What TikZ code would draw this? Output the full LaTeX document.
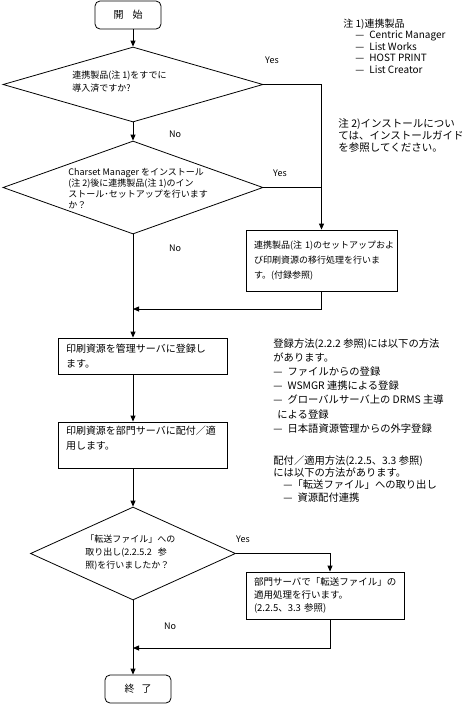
\documentclass[tikz,border=0pt]{standalone}
\usepackage{fontspec}
\setmainfont{Noto Sans CJK JP}
\usetikzlibrary{shapes.geometric, arrows.meta}

\begin{document}
\begin{tikzpicture}[
    x=1pt, y=-1pt,
    line width=0.8pt,
    term/.style={draw, rounded corners=5pt, minimum width=66pt, minimum height=28pt,
                 inner sep=0pt, font=\fontsize{10}{12}\selectfont},
    dec/.style={draw, diamond, inner sep=0pt},
    proc/.style={draw, align=left, inner xsep=8pt, inner ysep=0pt},
    txt/.style={anchor=north west, inner sep=0pt, align=left},
    lbl/.style={inner sep=0pt, font=\fontsize{9}{11}\selectfont},
    arr/.style={-{Triangle[length=6pt, width=5pt]}},
]
\useasboundingbox (0,0) rectangle (469,705);

% main column
\node[term] (start) at (128,15) {開\hspace{9pt}始};
\node[dec, minimum width=260pt, minimum height=75pt] (d1) at (133,84.5) {};
\node[txt, font=\fontsize{9}{13}\selectfont] (d1t) at (72,71) {連携製品(注 1)をすでに\\導入済ですか?};
\node[dec, minimum width=260pt, minimum height=93pt] (d2) at (133,187.5) {};
\node[txt, font=\fontsize{9}{11}\selectfont] (d2t) at (68,167.5)
    {Charset Manager をインストール\\(注 2)後に連携製品(注 1)のイン\\ストール･セットアップを行います\\か？};
\node[proc, text width=135pt, minimum height=61pt, font=\fontsize{9}{15}\selectfont] (b3) at (321.5,260.5)
    {連携製品(注~1)のセットアップおよ\\び印刷資源の移行処理を行いま\\す。(付録参照)};
\node[proc, text width=153pt, minimum height=36pt, font=\fontsize{10}{15}\selectfont] (b4) at (142.5,356)
    {印刷資源を管理サーバに登録し\\ます。};
\node[proc, text width=153pt, minimum height=46pt, font=\fontsize{10}{15}\selectfont] (b5) at (142.5,445)
    {印刷資源を部門サーバに配付／適\\用します。\\\mbox{}};
\node[dec, minimum width=205pt, minimum height=93pt] (d3) at (133,553.5) {};
\node[txt, font=\fontsize{9}{13}\selectfont] (d3t) at (85,534)
    {「転送ファイル」への\\取り出し(2.2.5.2\hspace{6pt}参\\照)を行いましたか？};
\node[proc, text width=142pt, minimum height=47pt, font=\fontsize{9.5}{13}\selectfont] (b6) at (325,595.5)
    {部門サーバで「転送ファイル」の\\適用処理を行います。\\(2.2.5、3.3~参照)};
\node[term] (end) at (138,689) {終\hspace{7pt}了};

% Yes / No
\node[lbl] (y1) at (272,60) {Yes};
\node[lbl] (n1) at (175,134) {No};
\node[lbl] (y2) at (280,173) {Yes};
\node[lbl] (n2) at (175,248) {No};
\node[lbl] (y3) at (243,539) {Yes};
\node[lbl] (n3) at (170,626) {No};

% notes
\node[txt, font=\fontsize{10}{11.5}\selectfont] (note1) at (343,18.5)
    {注 1)連携製品\\
     \hspace{12pt}—\hspace{5pt}Centric Manager\\
     \hspace{12pt}—\hspace{5pt}List Works\\
     \hspace{12pt}—\hspace{5pt}HOST PRINT\\
     \hspace{12pt}—\hspace{5pt}List Creator};
\node[txt, font=\fontsize{10.5}{12}\selectfont] (note2) at (338,118)
    {注 2)インストールについ\\ては、インストールガイド\\を参照してください。};
\node[txt, font=\fontsize{10.3}{14.2}\selectfont] (note3) at (273,338)
    {登録方法(2.2.2 参照)には以下の方法\\
     があります。\\
     —\hspace{5pt}ファイルからの登録\\
     —\hspace{5pt}WSMGR 連携による登録\\
     —\hspace{5pt}グローバルサーバ上の DRMS 主導\\
     \hspace{4pt}による登録\\
     —\hspace{5pt}日本語資源管理からの外字登録};
\node[txt, font=\fontsize{10.3}{12.3}\selectfont] (note4) at (273,455)
    {配付／適用方法(2.2.5、3.3 参照)\\
     には以下の方法があります。\\
     \hspace{10pt}—「転送ファイル」への取り出し\\
     \hspace{10pt}—\hspace{5pt}資源配付連携};

% connectors
\coordinate (m1) at (133,309);
\coordinate (m2) at (133,648);
\draw[arr] (start.south -| d1.north) -- (d1.north);
\draw[arr] (d1.south) -- (d2.north);
\draw[arr] (d1.east) -| (b3.north);
\draw (d2.east) -- (d2.east -| b3.north);
\draw (d2.south) -- (m1);
\draw[arr] (b3.south) |- (m1);
\draw[arr] (m1) -- (b4.north -| m1);
\draw[arr] (b4.south -| m1) -- (b5.north -| m1);
\draw[arr] (b5.south -| d3.north) -- (d3.north);
\draw[arr] (d3.east) -| ([xshift=5pt]b6.north);
\draw (d3.south) -- (m2);
\draw[arr] ([xshift=5pt]b6.south) |- (m2);
\draw[arr] (m2) -- (end.north -| m2);
\end{tikzpicture}
\end{document}
